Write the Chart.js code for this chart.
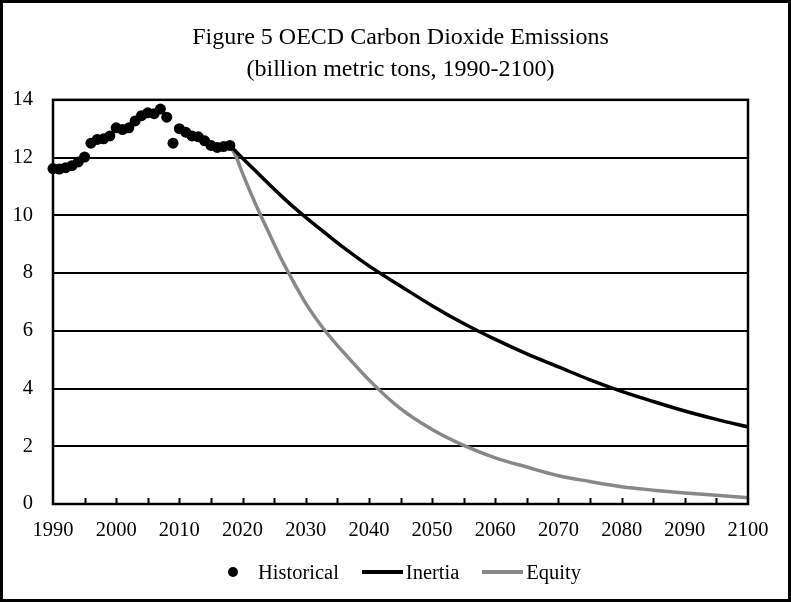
<!DOCTYPE html>
<html>
<head>
<meta charset="utf-8">
<script src="https://cdn.jsdelivr.net/npm/chart.js@4.4.0/dist/chart.umd.min.js"></script>
<style>
  html, body { margin: 0; padding: 0; background: #fff; }
  #wrap { position: relative; width: 791px; height: 602px; }
  #legend {
    position: absolute; left: 228px; top: 558px; height: 28px;
    display: flex; align-items: center;
    font-family: 'Liberation Serif', 'Times New Roman', serif; font-size: 20.5px; color: #000;
  }
  .dot { width: 10px; height: 10px; border-radius: 50%; background: #000; margin-right: 20px; }
  .ln { width: 41px; height: 4px; margin-left: 23px; margin-right: 3px; }
</style>
</head>
<body>
<div id="wrap">
  <canvas id="chart"></canvas>
  <div id="legend">
    <span class="dot"></span><span>Historical</span>
    <span class="ln" style="background:#000"></span><span>Inertia</span>
    <span class="ln" style="background:#888"></span><span>Equity</span>
  </div>
</div>
<script>
// historical emissions, 1990-2018
var histYears = [1990, 1991, 1992, 1993, 1994, 1995, 1996, 1997, 1998, 1999,
                 2000, 2001, 2002, 2003, 2004, 2005, 2006, 2007, 2008, 2009,
                 2010, 2011, 2012, 2013, 2014, 2015, 2016, 2017, 2018];
var histValues = [11.62, 11.6, 11.65, 11.72, 11.85, 12.02, 12.5, 12.63, 12.65, 12.75,
                  13.03, 12.97, 13.03, 13.27, 13.45, 13.55, 13.52, 13.68, 13.4, 12.5,
                  13.0, 12.88, 12.75, 12.72, 12.58, 12.42, 12.35, 12.38, 12.42];

// projections
var projYears = [2018, 2019, 2020, 2022, 2024, 2026, 2028, 2030, 2033, 2036,
                 2040, 2045, 2050, 2055, 2060, 2065, 2070, 2075, 2080, 2085,
                 2090, 2095, 2100];
var inertiaValues = [12.42, 12.2, 11.98, 11.55, 11.12, 10.7, 10.3, 9.93, 9.4, 8.88,
                     8.25, 7.55, 6.87, 6.25, 5.7, 5.2, 4.75, 4.3, 3.9, 3.55,
                     3.22, 2.93, 2.67];
var equityValues = [12.42, 12.02, 11.45, 10.42, 9.47, 8.55, 7.72, 6.95, 6.02, 5.25,
                    4.3, 3.3, 2.58, 2.03, 1.6, 1.28, 0.98, 0.78, 0.6, 0.48,
                    0.38, 0.3, 0.22];

var yTicks = [0, 2, 4, 6, 8, 10, 12, 14];

var serif = "'Liberation Serif', 'Times New Roman', serif";

function pairs(xs, ys) {
    return xs.map(function(x, i) { return {x: x, y: ys[i]}; });
}

// white background, outer frame, plot frame and inward x ticks
var framePlugin = {
    id: 'frame',
    beforeDraw: function(chart) {
        var c = chart.ctx;
        c.save();
        c.fillStyle = '#fff';
        c.fillRect(0, 0, chart.width, chart.height);
        c.restore();
    },
    afterDraw: function(chart) {
        var c = chart.ctx, a = chart.chartArea, xs = chart.scales.x;
        c.save();
        c.strokeStyle = '#000';
        c.lineWidth = 2.5;
        c.strokeRect(a.left, a.top, a.right - a.left, a.bottom - a.top);
        c.lineWidth = 2;
        for (var yr = 1995; yr < 2100; yr += 5) {
            var px = Math.round(xs.getPixelForValue(yr)) + 0.5;
            c.beginPath();
            c.moveTo(px, a.bottom);
            c.lineTo(px, a.bottom - 6);
            c.stroke();
        }
        c.lineWidth = 3;
        c.strokeRect(1.5, 1.5, chart.width - 3, chart.height - 3);
        c.restore();
    }
};

var ctx = document.getElementById('chart');

var myChart = new Chart(ctx, {
    type: 'scatter',
    data: {
        datasets: [{
            label: 'Historical',
            data: pairs(histYears, histValues),
            showLine: false,
            pointRadius: 5.5,
            pointHoverRadius: 5.5,
            backgroundColor: '#000',
            borderColor: '#000',
            borderWidth: 0,
            clip: false,
            order: 0
        }, {
            label: 'Inertia',
            data: pairs(projYears, inertiaValues),
            showLine: true,
            pointRadius: 0,
            borderColor: '#000',
            borderWidth: 3.5,
            cubicInterpolationMode: 'monotone',
            order: 1
        }, {
            label: 'Equity',
            data: pairs(projYears, equityValues),
            showLine: true,
            pointRadius: 0,
            borderColor: '#888',
            borderWidth: 3.5,
            cubicInterpolationMode: 'monotone',
            order: 2
        }]
    },
    options: {
        responsive: true,
        maintainAspectRatio: false,
        animation: false,
        devicePixelRatio: 1,
        layout: {
            padding: {left: 0, right: 43, top: 0, bottom: 0}
        },
        scales: {
            x: {
                type: 'linear',
                min: 1990,
                max: 2100,
                afterFit: function(scale) { scale.height = 98; },
                ticks: {
                    stepSize: 10,
                    padding: 14,
                    color: '#000',
                    font: {family: serif, size: 20.5},
                    maxRotation: 0,
                    callback: function(value) { return String(value); }
                },
                grid: {display: false, drawTicks: false},
                border: {display: false}
            },
            y: {
                min: 0,
                max: 14,
                afterFit: function(scale) { scale.width = 53; },
                afterBuildTicks: function(scale) {
                    scale.ticks = yTicks.map(function(v) { return {value: v}; });
                },
                ticks: {
                    padding: 20,
                    color: '#000',
                    font: {family: serif, size: 20.5}
                },
                grid: {color: '#000', lineWidth: 2, drawTicks: false},
                border: {display: false}
            }
        },
        plugins: {
            legend: {display: false},
            tooltip: {enabled: false},
            title: {
                display: true,
                fullSize: false,
                text: ['Figure 5 OECD Carbon Dioxide Emissions', '(billion metric tons, 1990-2100)'],
                color: '#000',
                font: {family: serif, size: 24, weight: 'normal', lineHeight: 1.33},
                padding: {top: 22, bottom: 14}
            }
        }
    },
    plugins: [framePlugin]
});
</script>
</body>
</html>
